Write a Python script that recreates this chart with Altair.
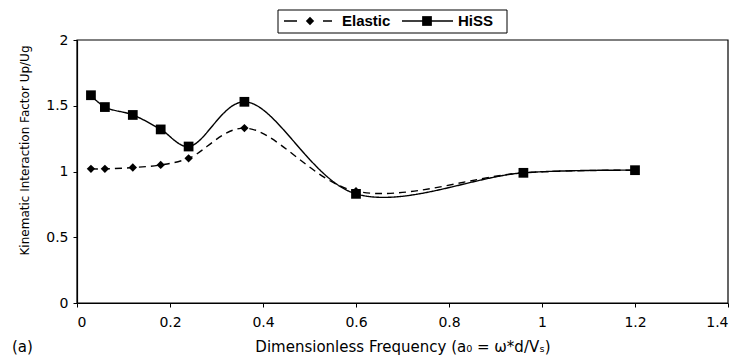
import altair as alt
import pandas as pd

x_elastic = [0.03, 0.06, 0.12, 0.18, 0.24, 0.36, 0.60, 0.96, 1.20]
y_elastic = [1.02, 1.02, 1.03, 1.05, 1.10, 1.33, 0.85, 0.99, 1.01]
x_hiss = [0.03, 0.06, 0.12, 0.18, 0.24, 0.36, 0.60, 0.96, 1.20]
y_hiss = [1.58, 1.49, 1.43, 1.32, 1.19, 1.53, 0.83, 0.99, 1.01]
series_names = ["Elastic", "HiSS"]
x_ticks = [0, 0.2, 0.4, 0.6, 0.8, 1.0, 1.2, 1.4]
y_ticks = [0, 0.5, 1.0, 1.5, 2.0]
panel_label = "(a)"

df = pd.concat([
    pd.DataFrame({"x": x_elastic, "y": y_elastic, "series": series_names[0]}),
    pd.DataFrame({"x": x_hiss, "y": y_hiss, "series": series_names[1]}),
])

FONT = "DejaVu Sans"
W, H = 651, 263

xenc = alt.X("x:Q", scale=alt.Scale(domain=[0, 1.4], nice=False),
             axis=alt.Axis(values=x_ticks, format=".1~f", grid=False,
                           title="Dimensionless Frequency (a₀ = ω*d/Vₛ)",
                           titleFontSize=15, titlePadding=10, labelPadding=8))
yenc = alt.Y("y:Q", scale=alt.Scale(domain=[0, 2], nice=False),
             axis=alt.Axis(values=y_ticks, format=".1~f", grid=False,
                           title="Kinematic Interaction Factor Up/Ug",
                           titleFontSize=12, titlePadding=14, titleY=110,
                           labelPadding=5))

base = alt.Chart(df)

lines = base.mark_line(interpolate="catmull-rom", color="black", strokeWidth=1.4).encode(
    x=xenc, y=yenc,
    strokeDash=alt.StrokeDash("series:N", scale=alt.Scale(domain=series_names, range=[[7, 5], [1, 0]]), legend=None),
    detail="series:N",
)

pts_el = base.transform_filter(alt.datum.series == series_names[0]).mark_point(
    shape="diamond", filled=True, color="black", size=70, opacity=1).encode(x="x:Q", y="y:Q")
pts_hi = base.transform_filter(alt.datum.series == series_names[1]).mark_point(
    shape="square", filled=True, color="black", size=95, opacity=1).encode(x="x:Q", y="y:Q")

# plot frame (top and right border)
frame = alt.Chart(pd.DataFrame({"k": [0]})).mark_rect(
    fill="white", fillOpacity=0, stroke="black", strokeWidth=1.2).encode(
    x=alt.value(0), x2=alt.value(W), y=alt.value(0), y2=alt.value(H))

# legend built from layered marks
leg_df = pd.DataFrame({"label": series_names})
leg_one = alt.Chart(pd.DataFrame({"k": [0]}))
LY = -19
leg_box = leg_one.mark_rect(fill="white", stroke="black", strokeWidth=1).encode(
    x=alt.value(201), x2=alt.value(430), y=alt.value(-30), y2=alt.value(-7))
leg_el_line = leg_one.mark_rule(color="black", strokeWidth=1.4, strokeDash=[13, 26]).encode(
    x=alt.value(207), x2=alt.value(255), y=alt.value(LY))
leg_el_pt = leg_one.mark_point(shape="diamond", filled=True, color="black", size=70, opacity=1).encode(
    x=alt.value(233), y=alt.value(LY))
leg_hi_line = leg_one.mark_rule(color="black", strokeWidth=1.4).encode(
    x=alt.value(325), x2=alt.value(376), y=alt.value(LY))
leg_hi_pt = leg_one.mark_point(shape="square", filled=True, color="black", size=95, opacity=1).encode(
    x=alt.value(350), y=alt.value(LY))
leg_txt_el = alt.Chart(leg_df).transform_filter(alt.datum.label == series_names[0]).mark_text(
    align="left", baseline="middle", font="Liberation Sans", fontSize=15, fontWeight="bold", color="black").encode(
    x=alt.value(265), y=alt.value(LY), text="label:N")
leg_txt_hi = alt.Chart(leg_df).transform_filter(alt.datum.label == series_names[1]).mark_text(
    align="left", baseline="middle", font="Liberation Sans", fontSize=15, fontWeight="bold", color="black").encode(
    x=alt.value(381), y=alt.value(LY), text="label:N")

panel = alt.Chart(pd.DataFrame({"label": [panel_label]})).mark_text(
    align="left", baseline="middle", font=FONT, fontSize=15, color="black").encode(
    x=alt.value(-65), y=alt.value(H + 44), text="label:N")

chart = alt.layer(
    lines, pts_el, pts_hi, frame,
    leg_box, leg_el_line, leg_el_pt, leg_hi_line, leg_hi_pt, leg_txt_el, leg_txt_hi,
    panel,
).properties(
    width=W, height=H,
    autosize=alt.AutoSizeParams(type="none"),
    padding={"left": 77, "top": 40, "right": 10, "bottom": 53},
    background="white",
).configure_view(strokeWidth=0).configure_axis(
    labelFont=FONT, titleFont=FONT, labelFontSize=14,
    titleFontWeight="normal", labelColor="black", titleColor="black",
    domainColor="black", tickColor="black", tickSize=4, domainWidth=1.2,
)

chart.save("out.html", embed_options={"renderer": "svg", "actions": False})
